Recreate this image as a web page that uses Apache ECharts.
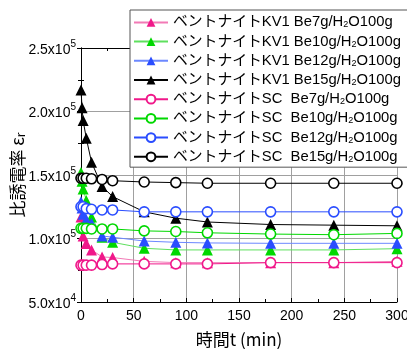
<!DOCTYPE html>
<html><head><meta charset="utf-8">
<script src="https://cdn.jsdelivr.net/npm/echarts@6/dist/echarts.min.js"></script>
<style>html,body{margin:0;padding:0;background:#fff}#c{width:407px;height:349px}</style>
</head><body><div id="c"></div>
<script>
const timesKV = [0, 1, 2, 5, 10, 20, 30, 60, 90, 120, 180, 240, 300];
const timesSC = [0, 2, 5, 10, 20, 30, 60, 90, 120, 180, 240, 300];
const kv7  = [117000, 110000, 102000, 96000, 91000, 85500, 85000, 82000, 81000, 81000, 81000, 81000, 82000];
const kv10 = [152000, 145000, 139000, 130000, 117000, 101000, 97000, 92300, 91000, 91000, 91000, 91000, 92000];
const kv12 = [129000, 124000, 119000, 115000, 112000, 102000, 101000, 98000, 97000, 96500, 96200, 96200, 96200];
const kv15 = [217000, 203000, 193000, 179000, 160000, 141000, 133000, 121000, 116000, 113000, 111000, 110500, 110000];
const sc7  = [79000, 79000, 79000, 79000, 79500, 80000, 80000, 80000, 80000, 81000, 81000, 81000];
const sc10 = [108000, 108000, 108000, 107500, 107500, 107500, 106000, 105500, 104500, 103500, 103000, 104000];
const sc12 = [125000, 125000, 123500, 123000, 122500, 122500, 121000, 121000, 121000, 121000, 121000, 121000];
const sc15 = [147500, 147500, 147500, 147000, 146500, 145500, 144500, 144000, 143500, 143500, 143500, 143500];
const seriesNames = [
  'ベントナイトKV1 Be7g/H2O100g', 'ベントナイトKV1 Be10g/H2O100g',
  'ベントナイトKV1 Be12g/H2O100g', 'ベントナイトKV1 Be15g/H2O100g',
  'ベントナイトSC  Be7g/H2O100g', 'ベントナイトSC  Be10g/H2O100g',
  'ベントナイトSC  Be12g/H2O100g', 'ベントナイトSC  Be15g/H2O100g'
];
const xTicks = {min: 0, max: 300, interval: 50};
const yTicks = {min: 50000, max: 250000, interval: 50000};

const colors = ['#f0188a', '#00d800', '#2a4dff', '#000000'];
const lightColors = ['#f27ab6', '#5ee05e', '#6c88ff', '#000000'];
const pair = (t, v) => t.map((x, i) => [x, v[i]]);
const kvData = [kv7, kv10, kv12, kv15];
const scData = [sc7, sc10, sc12, sc15];
const series = [];
kvData.forEach((d, i) => series.push({
  name: seriesNames[i], type: 'line', data: pair(timesKV, d),
  symbol: 'triangle', symbolSize: 11,
  itemStyle: {color: colors[i]}, lineStyle: {color: lightColors[i], width: 1}
}));
scData.forEach((d, i) => series.push({
  name: seriesNames[4 + i], type: 'line', data: pair(timesSC, d),
  symbol: 'circle', symbolSize: 10,
  itemStyle: {color: '#fff', borderColor: colors[i], borderWidth: 1.6},
  lineStyle: {color: colors[i], width: 1}
}));

const fmtY = v => {
  const e = Math.floor(Math.log10(v) + 1e-9);
  const m = v / Math.pow(10, e);
  return '{b|' + m.toFixed(1) + 'x10}{s|' + e + '}';
};
const axisCommon = {
  axisLine: {show: true, lineStyle: {color: '#000', width: 1}},
  axisTick: {show: true, inside: true, length: 4, lineStyle: {color: '#000'}},
  minorTick: {show: true, splitNumber: 2, length: 3, lineStyle: {color: '#000'}},
};
const FONT = '"Liberation Sans", "Noto Sans CJK JP", sans-serif';
const chart = echarts.init(document.getElementById('c'), null, {renderer: 'canvas'});
chart.setOption({
  animation: false,
  backgroundColor: '#fff',
  grid: {left: 81, right: 10, top: 48, bottom: 47, outerBoundsMode: 'none', containLabel: false},
  legend: {
    orient: 'vertical', left: 130, top: 10,
    data: seriesNames,
    backgroundColor: '#fff', borderColor: '#555', borderWidth: 1,
    padding: [5, 8, 3, 3], itemGap: 4.4, itemWidth: 34, itemHeight: 11,
    formatter: n => n.replace('H2O', 'H{sub|2}O'),
    textStyle: {fontFamily: FONT, fontSize: 14.8, color: '#000', lineHeight: 14,
      rich: {sub: {fontSize: 9, verticalAlign: 'bottom', lineHeight: 10, fontFamily: FONT}}}
  },
  xAxis: [Object.assign({
    type: 'value', min: xTicks.min, max: xTicks.max, interval: xTicks.interval,
    name: '時間t (min)', nameLocation: 'middle', nameGap: 29, nameMoveOverlap: false,
    nameTextStyle: {fontFamily: 'Noto Sans CJK JP', fontSize: 17, color: '#000'},
    axisLabel: {fontFamily: 'Liberation Sans', fontSize: 14, color: '#000', margin: 7},
    splitLine: {show: true, lineStyle: {color: '#a0a0a0', width: 1}}
  }, axisCommon), Object.assign({
    type: 'value', position: 'top', min: xTicks.min, max: xTicks.max, interval: xTicks.interval,
    axisLabel: {show: false}, splitLine: {show: false}
  }, axisCommon)],
  yAxis: [Object.assign({
    type: 'value', min: yTicks.min, max: yTicks.max, interval: yTicks.interval,
    name: '比誘電率 ε{r|r}', nameLocation: 'middle', nameGap: 55, nameMoveOverlap: false,
    nameTextStyle: {fontFamily: 'Noto Sans CJK JP', fontSize: 17, color: '#000',
      rich: {r: {fontSize: 12, verticalAlign: 'bottom', fontFamily: 'Noto Sans CJK JP'}}},
    axisLabel: {formatter: fmtY, margin: 5, color: '#000',
      rich: {b: {fontFamily: 'Liberation Sans', fontSize: 14, lineHeight: 18, verticalAlign: 'bottom', color: '#000'},
             s: {fontFamily: 'Liberation Sans', fontSize: 10, lineHeight: 10, verticalAlign: 'top', color: '#000'}}},
    splitLine: {show: true, lineStyle: {color: '#a0a0a0', width: 1}}
  }, axisCommon), Object.assign({
    type: 'value', position: 'right', min: yTicks.min, max: yTicks.max, interval: yTicks.interval,
    axisLabel: {show: false}, splitLine: {show: false}
  }, axisCommon)],
  series: series
});
</script></body></html>
